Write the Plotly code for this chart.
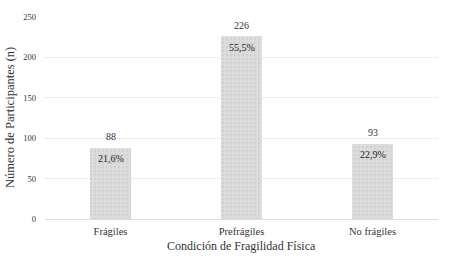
import plotly.graph_objects as go

categories = ["Frágiles", "Prefrágiles", "No frágiles"]
counts = [88, 226, 93]
percents = ["21,6%", "55,5%", "22,9%"]
y_ticks = [0, 50, 100, 150, 200, 250]

font_family = "Liberation Serif, DejaVu Serif, serif"
txt = "#333333"

fig = go.Figure()
fig.add_trace(go.Bar(
    x=categories, y=counts, width=0.31,
    marker=dict(color="#dcdcdc", line=dict(width=0),
                pattern=dict(shape=".", fgcolor="#c6c6c6", bgcolor="#dcdcdc", size=4, solidity=0.3)),
    hoverinfo="skip",
))
for c, n, p in zip(categories, counts, percents):
    fig.add_annotation(x=c, y=n, text=str(n), showarrow=False, yshift=11,
                       font=dict(family=font_family, size=10, color=txt))
    fig.add_annotation(x=c, y=n, text=p, showarrow=False, yshift=-11,
                       font=dict(family=font_family, size=10, color="#222222"))

fig.add_annotation(xref="paper", yref="paper", x=0.5, y=0, yshift=-27,
                   xanchor="center", yanchor="middle",
                   text="Condición de Fragilidad Física", showarrow=False,
                   font=dict(family=font_family, size=12, color=txt))
fig.add_annotation(xref="paper", yref="paper", x=0, y=0.5, xshift=-35,
                   xanchor="center", yanchor="middle",
                   text="Número de Participantes (n)", showarrow=False, textangle=-90,
                   font=dict(family=font_family, size=12.5, color=txt))

fig.update_layout(
    width=450, height=256, showlegend=False,
    margin=dict(l=45, r=12, t=17, b=37),
    plot_bgcolor="white", paper_bgcolor="white",
    font=dict(family=font_family, color=txt),
    bargap=0,
)
fig.update_xaxes(
    automargin=False,
    showgrid=False, showline=False, ticks="",
    tickfont=dict(family=font_family, size=10.5, color=txt),
    ticklabelstandoff=4,
)
fig.update_yaxes(
    automargin=False,
    range=[0, 250], tickvals=y_ticks,
    showgrid=True, gridcolor="#dadada", griddash="1px,1px", gridwidth=1,
    zeroline=True, zerolinecolor="#dcdcdc", zerolinewidth=1,
    tickfont=dict(family=font_family, size=8.5, color=txt),
    ticklabelstandoff=8,
)
fig.write_html("out.html", config={"displayModeBar": False},
               post_script="document.body.style.margin='0px';")
